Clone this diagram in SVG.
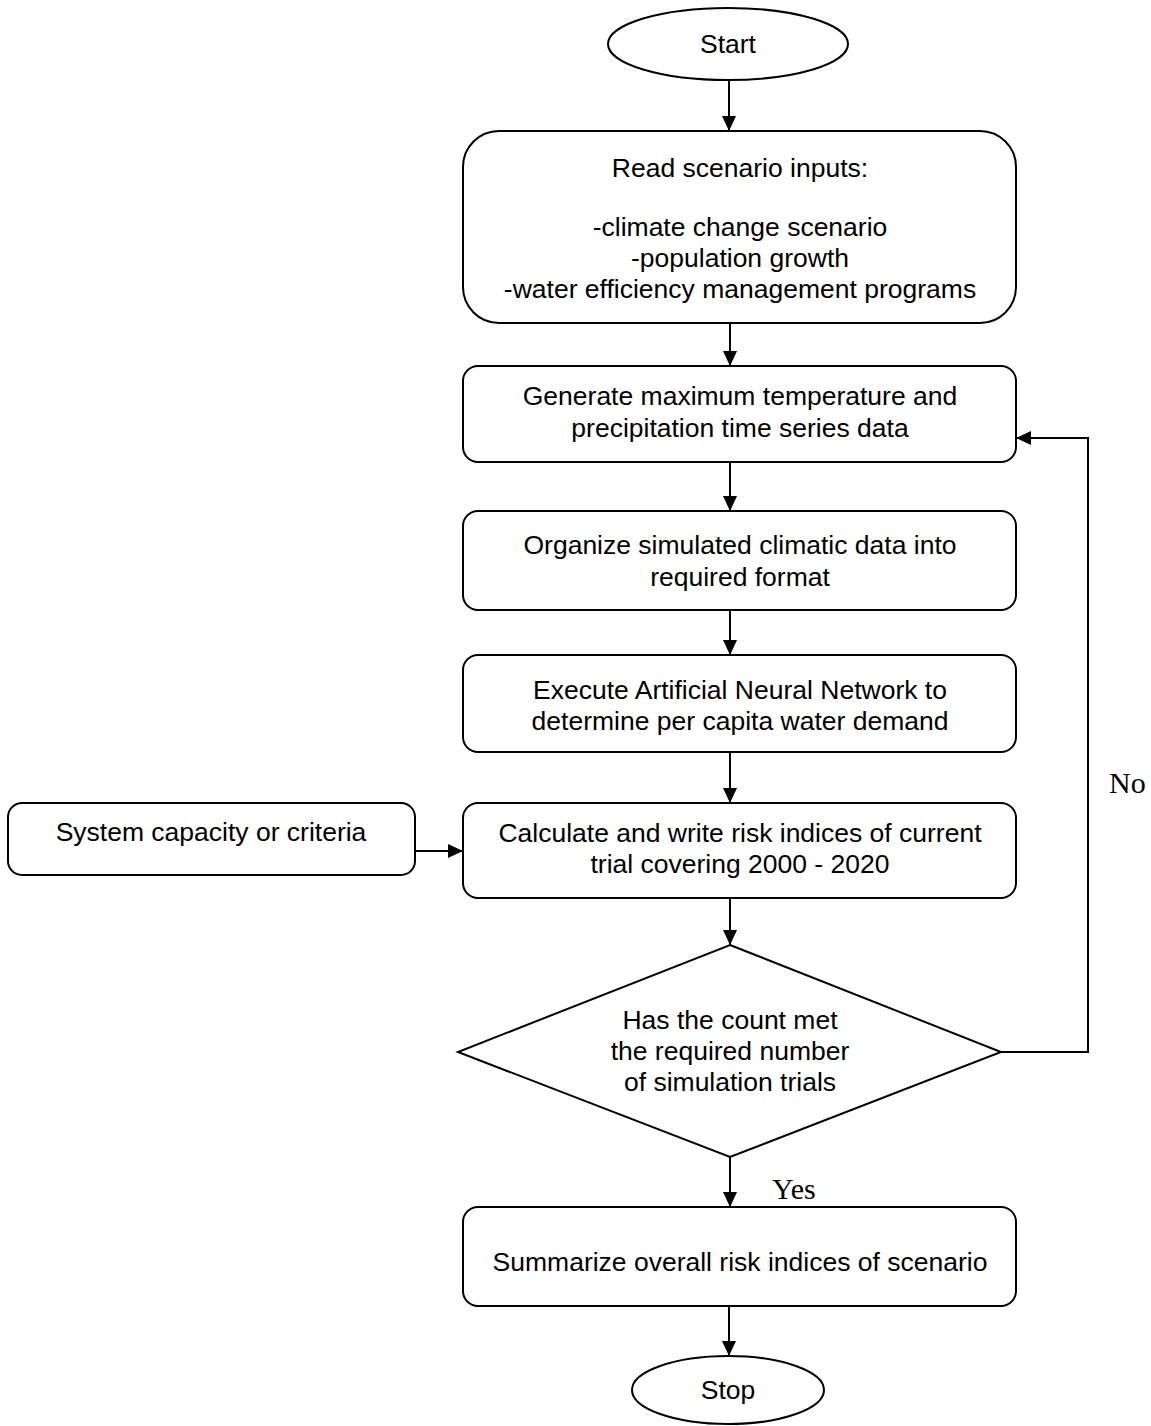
<svg xmlns="http://www.w3.org/2000/svg" width="1151" height="1426" viewBox="0 0 1151 1426">
<defs>
<marker id="arr" markerWidth="15" markerHeight="14" refX="15" refY="7" orient="auto" markerUnits="userSpaceOnUse">
<path d="M0,0 L15,7 L0,14 Z" fill="#000"/>
</marker>
<style>
.s{fill:#fff;stroke:#000;stroke-width:2}
.t{font-family:"Liberation Sans",Arial,sans-serif;font-size:26.5px;fill:#000;text-anchor:middle}
.r{font-family:"Liberation Serif","Times New Roman",serif;font-size:30px;fill:#000}
.c{fill:none;stroke:#000;stroke-width:2}
</style>
</defs>
<rect width="1151" height="1426" fill="#fff"/>
<g id="connectors">
<line class="c" x1="729" y1="80" x2="729" y2="131" marker-end="url(#arr)"/>
<line class="c" x1="730" y1="323" x2="730" y2="366" marker-end="url(#arr)"/>
<line class="c" x1="730" y1="462" x2="730" y2="511" marker-end="url(#arr)"/>
<line class="c" x1="730" y1="610" x2="730" y2="655" marker-end="url(#arr)"/>
<line class="c" x1="730" y1="752" x2="730" y2="803" marker-end="url(#arr)"/>
<line class="c" x1="415" y1="851" x2="463" y2="851" marker-end="url(#arr)"/>
<line class="c" x1="730" y1="898" x2="730" y2="945" marker-end="url(#arr)"/>
<polyline class="c" points="1001,1052 1088,1052 1088,438 1016,438" marker-end="url(#arr)"/>
<line class="c" x1="730" y1="1157" x2="730" y2="1207" marker-end="url(#arr)"/>
<line class="c" x1="729" y1="1306" x2="729" y2="1356" marker-end="url(#arr)"/>
<text class="r" x="1109" y="793">No</text>
<text class="r" x="772" y="1199">Yes</text>
</g>
<g id="start">
<ellipse class="s" cx="728" cy="44" rx="120" ry="36"/>
<text class="t" x="728" y="53">Start</text>
</g>
<g id="read">
<rect class="s" x="463" y="131" width="553" height="192" rx="36"/>
<text class="t" x="740" y="177">Read scenario inputs:</text>
<text class="t" x="740" y="236">-climate change scenario</text>
<text class="t" x="740" y="267">-population growth</text>
<text class="t" x="740" y="298">-water efficiency management programs</text>
</g>
<g id="generate">
<rect class="s" x="463" y="366" width="553" height="96" rx="15"/>
<text class="t" x="740" y="405">Generate maximum temperature and</text>
<text class="t" x="740" y="437">precipitation time series data</text>
</g>
<g id="organize">
<rect class="s" x="463" y="511" width="553" height="99" rx="15"/>
<text class="t" x="740" y="554">Organize simulated climatic data into</text>
<text class="t" x="740" y="586">required format</text>
</g>
<g id="execute">
<rect class="s" x="463" y="655" width="553" height="97" rx="15"/>
<text class="t" x="740" y="699">Execute Artificial Neural Network to</text>
<text class="t" x="740" y="730">determine per capita water demand</text>
</g>
<g id="calculate">
<rect class="s" x="463" y="803" width="553" height="95" rx="15"/>
<text class="t" x="740" y="842">Calculate and write risk indices of current</text>
<text class="t" x="740" y="873">trial covering 2000 - 2020</text>
</g>
<g id="system">
<rect class="s" x="8" y="803" width="407" height="72" rx="14"/>
<text class="t" x="211" y="841">System capacity or criteria</text>
</g>
<g id="decision">
<polygon class="s" points="730,945 1001,1052 730,1157 458,1052"/>
<text class="t" x="730" y="1029">Has the count met</text>
<text class="t" x="730" y="1060">the required number</text>
<text class="t" x="730" y="1091">of simulation trials</text>
</g>
<g id="summarize">
<rect class="s" x="463" y="1207" width="553" height="99" rx="15"/>
<text class="t" x="740" y="1271">Summarize overall risk indices of scenario</text>
</g>
<g id="stop">
<ellipse class="s" cx="728" cy="1390" rx="96" ry="34"/>
<text class="t" x="728" y="1399">Stop</text>
</g>
</svg>
